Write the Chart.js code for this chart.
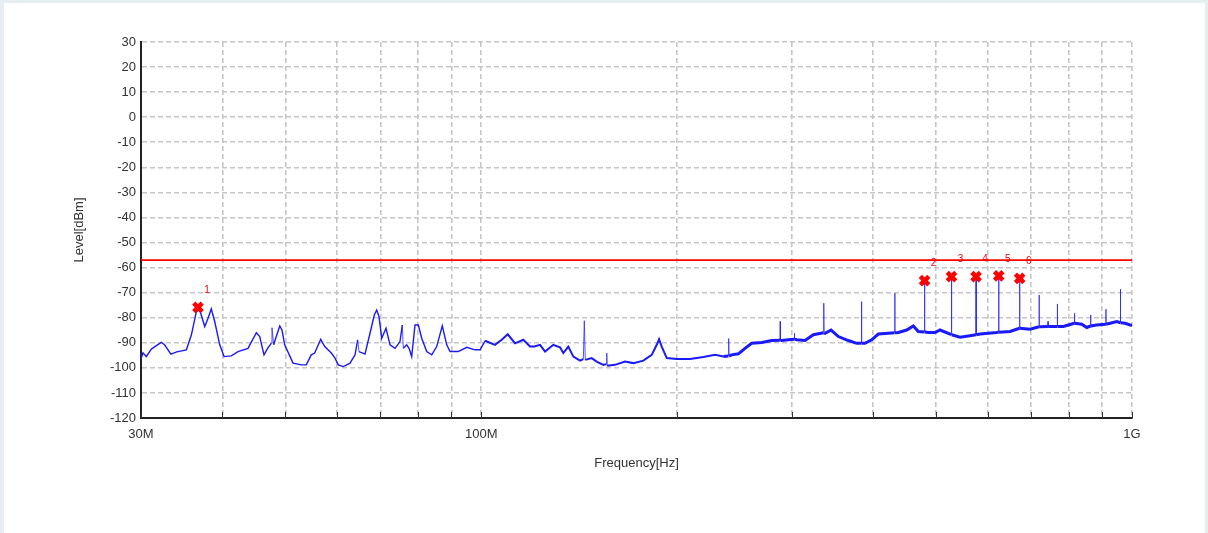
<!DOCTYPE html>
<html>
<head>
<meta charset="utf-8">
<script src="https://cdn.jsdelivr.net/npm/chart.js@4/dist/chart.umd.min.js"></script>
<style>
  html, body { margin: 0; padding: 0; background: #e7eef2; width: 1208px; height: 533px; overflow: hidden; }
  #panel { position: absolute; left: 4px; top: 3px; width: 1201px; height: 530px; background: #ffffff; }
  canvas { display: block; }
</style>
</head>
<body>
<div id="panel"><canvas id="c" width="1201" height="530"></canvas></div>
<script>
// ---- data (frequency in MHz, level in dBm) ----
const traceFreq = [
  30.00, 30.21, 30.57, 31.12, 32.22, 32.61, 33.35, 34.05, 35.22, 35.85,
  36.49, 36.93, 37.59, 38.03, 38.47, 38.94, 39.64, 40.25, 41.30, 42.29,
  43.81, 45.12, 45.66, 46.36, 47.03, 47.57, 47.69, 47.98, 48.32, 49.02,
  49.41, 49.88, 51.37, 52.91, 53.84, 54.80, 55.47, 56.66, 57.47, 58.83,
  59.60, 60.30, 61.38, 62.85, 63.98, 64.58, 64.88, 66.27, 67.46, 68.49,
  69.08, 69.65, 70.31, 71.39, 72.41, 73.70, 75.01, 75.63, 75.89, 76.81,
  77.45, 78.18, 79.11, 80.04, 81.00, 82.45, 83.93, 85.41, 87.12, 88.50,
  89.54, 92.20, 94.99, 97.83, 99.58, 101.36, 104.99, 107.51, 109.83, 112.70,
  116.05, 118.83, 120.65, 123.12, 125.33, 129.05, 132.14, 133.70, 136.09, 138.52,
  141.85, 143.5, 144.0, 144.5, 147.81, 150.46, 154.03, 155.6, 155.9, 156.1,
  160.52, 166.31, 171.28, 177.44, 182.79, 186.06, 187.61, 189.39, 192.78, 199.74,
  209.33, 219.44, 228.68, 235.52, 239.7, 240.0, 240.3, 242.5, 248.4, 254.3,
  260.4, 269.8, 279.5, 287.7, 288.0, 288.3, 289.5, 296.4, 302.5, 302.8,
  303.1, 305.4, 314.4, 323.9, 335.7, 336.0, 336.3, 337.6, 344.8, 353.8,
  366.5, 377.6, 383.7, 384.0, 384.3, 388.8, 398.1, 407.6, 422.3, 431.7,
  432.0, 432.3, 437.5, 450.6, 461.3, 469.5, 479.7, 480.0, 480.3, 486.4,
  498.1, 507.0, 525.3, 527.7, 528.0, 528.3, 544.2, 563.8, 575.7, 576.0,
  576.3, 584.1, 601.5, 619.6, 623.7, 624.0, 624.3, 649.5, 671.7, 672.0,
  672.3, 697.3, 719.7, 720.0, 720.3, 742.7, 743.0, 743.3, 767.7, 768.0,
  768.3, 784.3, 815.7, 816.0, 816.3, 837.1, 852.1, 863.7, 864.0, 864.3,
  882.6, 911.7, 912.0, 912.3, 947.7, 959.7, 960.0, 960.3, 975.9, 993.3,
  1000.0
];
const traceLevel = [
  -96.5, -94.0, -95.5, -92.5, -89.8, -90.8, -94.5, -93.6, -92.8, -86.9,
  -77.6, -76.9, -83.5, -80.2, -76.5, -81.5, -90.8, -95.5, -95.2, -93.5,
  -92.2, -86.0, -87.5, -94.8, -91.9, -90.2, -84.0, -90.8, -88.2, -83.3,
  -84.9, -90.8, -98.1, -98.8, -98.8, -94.8, -94.1, -88.6, -91.5, -94.1,
  -96.1, -98.8, -99.5, -98.1, -94.8, -88.8, -93.5, -94.5, -86.2, -78.9,
  -76.9, -79.6, -88.2, -84.2, -90.8, -92.2, -89.5, -82.9, -92.2, -90.8,
  -92.2, -95.5, -82.9, -82.9, -88.2, -93.5, -94.8, -91.5, -83.2, -90.8,
  -93.5, -93.5, -91.8, -92.8, -92.8, -89.2, -90.8, -88.8, -86.6, -90.2,
  -88.8, -91.5, -91.5, -90.8, -93.5, -90.8, -91.8, -94.1, -91.5, -95.5,
  -97.1, -96.5, -81.2, -96.8, -96.1, -97.5, -98.8, -98.5, -94.1, -99.2,
  -98.8, -97.5, -98.1, -97.1, -94.8, -90.8, -88.6, -91.5, -96.1, -96.5,
  -96.5, -95.7, -94.8, -95.5, -95.3, -88.3, -95.3, -94.8, -94.4, -92.2,
  -90.2, -89.9, -89.1, -89.0, -81.5, -89.1, -89.1, -88.8, -88.6, -86.2,
  -88.6, -88.8, -89.1, -86.8, -86.0, -74.2, -86.0, -86.2, -84.9, -87.5,
  -89.1, -90.2, -90.2, -73.6, -90.2, -90.2, -88.8, -86.5, -86.2, -86.0,
  -70.2, -86.0, -85.9, -84.9, -83.3, -85.5, -85.7, -65.3, -85.7, -85.9,
  -85.9, -84.9, -86.5, -86.8, -63.6, -86.8, -87.8, -87.2, -86.8, -63.6,
  -86.8, -86.5, -86.2, -85.9, -85.8, -63.3, -85.8, -85.5, -84.2, -64.3,
  -84.2, -84.6, -83.6, -70.9, -83.6, -83.5, -81.5, -83.5, -83.5, -74.5,
  -83.5, -83.5, -82.2, -78.2, -82.2, -82.6, -83.9, -83.3, -78.9, -83.3,
  -82.9, -82.6, -76.6, -82.6, -81.5, -82.0, -68.6, -82.0, -82.2, -82.9,
  -83.0
];
const markerFreq  = [36.7, 480, 528, 576, 624, 672];
const markerLevel = [-75.9, -65.2, -63.6, -63.6, -63.3, -64.3];
const markerLabel = ['1', '2', '3', '4', '5', '6'];
const limitFreq  = [30, 1000];
const limitLevel = [-57, -57];
const xGridValues = [30, 40, 50, 60, 70, 80, 90, 100, 200, 300, 400, 500, 600, 700, 800, 900, 1000];
const xTickLabels = { 30: '30M', 100: '100M', 1000: '1G' };
const yMin = -120, yMax = 30, yStep = 10;

// ---- build ----
const FONT = "'Liberation Sans', Arial, sans-serif";
const traceData = traceFreq.map((f, i) => ({ x: f, y: traceLevel[i] }));
const markerData = markerFreq.map((f, i) => ({ x: f, y: markerLevel[i] }));
const limitData = limitFreq.map((f, i) => ({ x: f, y: limitLevel[i] }));

// narrow-band emission lines: segments between almost equal frequencies
const isSpike = c => (c.p1.parsed.x / c.p0.parsed.x) < 1.0065 && Math.abs(c.p1.parsed.y - c.p0.parsed.y) > 1.5;

const innerTicks = {
  id: 'innerTicks',
  afterDraw(chart) {
    const ctx = chart.ctx, xs = chart.scales.x, area = chart.chartArea;
    ctx.save();
    ctx.strokeStyle = '#333';
    ctx.lineWidth = 1;
    xGridValues.forEach(v => {
      const px = Math.round(xs.getPixelForValue(v)) + 0.5;
      ctx.beginPath();
      ctx.moveTo(px, area.bottom - 6);
      ctx.lineTo(px, area.bottom);
      ctx.stroke();
    });
    // marker labels
    const ys = chart.scales.y;
    ctx.fillStyle = '#ff0000';
    ctx.font = '10px ' + FONT;
    ctx.textAlign = 'center';
    ctx.textBaseline = 'middle';
    markerFreq.forEach((f, i) => {
      ctx.fillText(markerLabel[i], xs.getPixelForValue(f) + 9, ys.getPixelForValue(markerLevel[i]) - 17);
    });
    ctx.restore();
  }
};

new Chart(document.getElementById('c'), {
  type: 'line',
  data: {
    datasets: [
      {
        label: 'Markers', data: markerData, showLine: false,
        pointStyle: 'crossRot', pointRadius: 6, pointBorderWidth: 4.5,
        pointBorderColor: '#ff0000', pointBackgroundColor: '#ff0000', order: 0
      },
      {
        label: 'Trace', data: traceData, borderColor: 'rgb(25,25,250)', borderWidth: 1.3,
        pointRadius: 0, tension: 0, order: 1,
        segment: {
          borderWidth: c => {
            if (isSpike(c)) return 1;
            const a = c.p0.parsed;
            return a.x > 230 ? 3 : (a.x > 100 ? 2 : 1.4);
          },
          borderColor: c => isSpike(c) ? 'rgba(40,40,255,0.8)' : 'rgb(25,25,250)'
        }
      },
      {
        label: 'Limit', data: limitData, borderColor: '#ff0000', borderWidth: 1.8,
        pointRadius: 0, order: 2
      }
    ]
  },
  options: {
    responsive: false,
    animation: false,
    layout: { padding: { left: 64, right: 73, top: 39, bottom: 58 } },
    plugins: { legend: { display: false }, tooltip: { enabled: false } },
    scales: {
      x: {
        type: 'logarithmic', min: 30, max: 1000,
        afterBuildTicks: s => { s.ticks = xGridValues.map(v => ({ value: v })); },
        afterFit: s => { s.height = 57; },
        ticks: {
          autoSkip: false, maxRotation: 0, padding: 9, color: '#333',
          font: { family: FONT, size: 13 },
          callback: v => xTickLabels[v] || ''
        },
        grid: { color: '#c6c6c6', lineWidth: 1.6, drawTicks: false },
        border: { display: true, color: '#222', width: 2, dash: [5, 3] },
        title: { display: true, text: 'Frequency[Hz]', color: '#333', font: { family: FONT, size: 13 } }
      },
      y: {
        min: yMin, max: yMax,
        afterFit: s => { s.width = 73; },
        ticks: { stepSize: yStep, padding: 5, color: '#333', font: { family: FONT, size: 13 } },
        grid: { color: '#c6c6c6', lineWidth: 1.6, drawTicks: false },
        border: { display: true, color: '#222', width: 2, dash: [5, 3] },
        title: { display: true, text: 'Level[dBm]', color: '#333', font: { family: FONT, size: 13 } }
      }
    }
  },
  plugins: [innerTicks]
});
</script>
</body>
</html>
